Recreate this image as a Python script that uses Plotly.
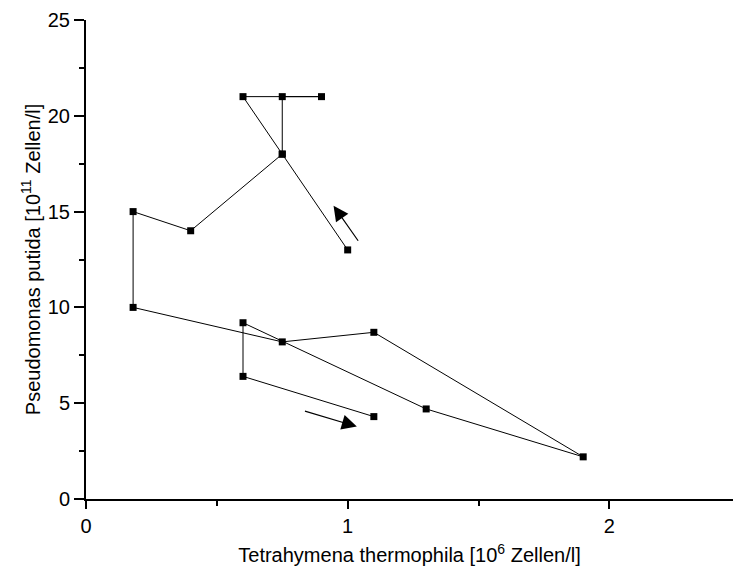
import plotly.graph_objects as go

# Trajectory (time order)
tetrahymena = [1.0, 0.75, 0.75, 0.9, 0.6, 0.75, 0.4, 0.18, 0.18, 0.75, 1.1, 1.9, 1.3, 0.6, 0.6, 1.1]
pseudomonas = [13.0, 18.0, 21.0, 21.0, 21.0, 18.0, 14.0, 15.0, 10.0, 8.2, 8.7, 2.2, 4.7, 9.2, 6.4, 4.3]

# direction arrows: (tail x, tail y, head x, head y)
arrow_tails_x = [1.044, 0.831]
arrow_tails_y = [13.4, 4.61]
arrow_heads_x = [0.946, 1.035]
arrow_heads_y = [15.31, 3.78]

x_title = "Tetrahymena thermophila [10<sup>6</sup> Zellen/l]"
y_title = "Pseudomonas putida [10<sup>11</sup> Zellen/l]"

FAM = "Arial, Liberation Sans, sans-serif"
tick_font = dict(family=FAM, size=20, color="black")
title_font = dict(family=FAM, size=20, color="black")

fig = go.Figure()
fig.add_trace(go.Scatter(
    x=tetrahymena, y=pseudomonas, mode="lines+markers",
    line=dict(color="black", width=1),
    marker=dict(symbol="square", size=7, color="black"),
    showlegend=False,
))

for tx, ty, hx, hy in zip(arrow_tails_x, arrow_tails_y, arrow_heads_x, arrow_heads_y):
    fig.add_annotation(x=hx, y=hy, ax=tx, ay=ty, xref="x", yref="y", axref="x", ayref="y",
                       showarrow=True, arrowhead=2, arrowsize=2.5, arrowwidth=1.2, arrowcolor="black", text="")

fig.update_layout(
    width=733, height=577,
    margin=dict(l=86, r=0, t=20, b=78),
    plot_bgcolor="white", paper_bgcolor="white",
    font=dict(family=FAM, size=20, color="black"),
)
fig.update_xaxes(
    range=[0, 2.4725], tickvals=[0, 1, 2], ticks="outside", ticklen=8, tickwidth=1.5, tickcolor="black",
    showline=True, linewidth=2, linecolor="black", showgrid=False, zeroline=False,
    minor=dict(tickvals=[0.5, 1.5], ticks="outside", ticklen=5, tickwidth=1.5, tickcolor="black"),
    title=dict(text=x_title, standoff=12, font=title_font), tickfont=tick_font,
)
fig.update_yaxes(
    range=[0, 25], tickvals=[0, 5, 10, 15, 20, 25], ticks="outside", ticklen=10, tickwidth=1.5, tickcolor="black",
    showline=True, linewidth=2, linecolor="black", showgrid=False, zeroline=False,
    minor=dict(tickvals=[2.5, 7.5, 12.5, 17.5, 22.5], ticks="outside", ticklen=5, tickwidth=1.5, tickcolor="black"),
    title=dict(text=y_title, standoff=2, font=title_font), tickfont=tick_font,
)

fig.write_html("out.html")
